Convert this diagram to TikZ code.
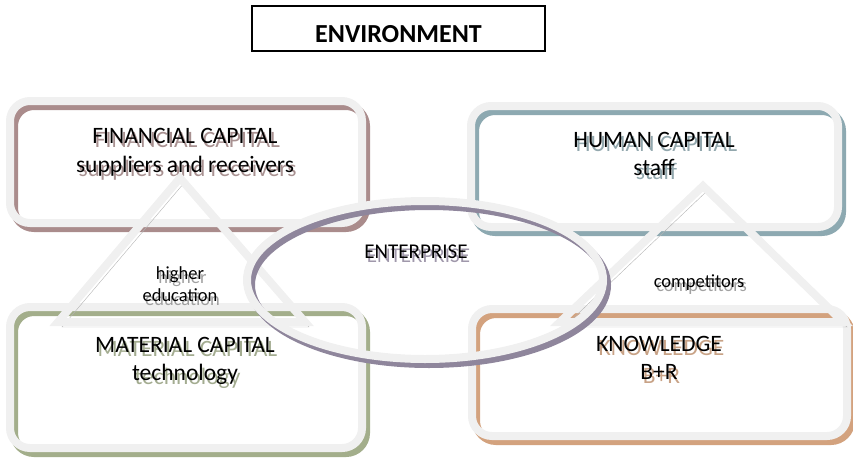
\documentclass[tikz,border=0pt]{standalone}
\usepackage{fontspec}
\setmainfont{Carlito}
\usetikzlibrary{shapes.geometric, positioning}

\definecolor{rimgray}{RGB}{240,240,240}
\definecolor{finshadow}{RGB}{170,140,140}
\definecolor{humshadow}{RGB}{141,169,177}
\definecolor{matshadow}{RGB}{163,174,139}
\definecolor{knowshadow}{RGB}{211,162,126}
\definecolor{entshadow}{RGB}{143,134,156}
\definecolor{trishadow}{RGB}{180,180,180}

\tikzstyle{title} = [draw, rectangle, line width=1.5pt, minimum width=293pt, minimum height=45pt, text height=27pt, text depth=0pt, font=\fontsize{26}{31}\selectfont\bfseries]
\tikzstyle{capital} = [draw=rimgray, rectangle, line width=8pt, rounded corners=20pt, inner sep=0pt]
\tikzstyle{ring} = [draw=rimgray, ellipse, line width=8pt, inner sep=0pt]
\tikzstyle{wedge} = [draw=rimgray, line width=8pt, line join=miter]
\tikzstyle{captext} = [align=center, font=\fontsize{23.5}{28.7}\selectfont]
\tikzstyle{smalltext} = [align=center, font=\fontsize{18.5}{22.6}\selectfont]
\tikzset{rim shadow/.style={preaction={draw=#1, transform canvas={shift={(4pt,-5pt)}}}},
         text shadow/.style={text=#1, opacity=.85, xshift=2.5pt, yshift=-4pt}}

\begin{document}
\begin{tikzpicture}[x=1pt, y=-1pt]
    \useasboundingbox (0,0) rectangle (853,460);

    % Environment heading
    \node (Environment) [title] at (398.5,28.5) {ENVIRONMENT};

    % Capital boxes
    \node (FinancialBox) [capital, rim shadow=finshadow, minimum width=352pt, minimum height=122pt] at (186,162) {};
    \node (HumanBox) [capital, rim shadow=humshadow, minimum width=367pt, minimum height=121pt] at (654.5,166.5) {};
    \node (MaterialBox) [capital, rim shadow=matshadow, minimum width=352pt, minimum height=141pt] at (186,377.5) {};
    \node (KnowledgeBox) [capital, rim shadow=knowshadow, minimum width=375pt, minimum height=127pt] at (659.5,372.5) {};

    % Shadows of the box texts
    \node [captext, text shadow=finshadow!90!black] at (185,152) {FINANCIAL CAPITAL\\suppliers and receivers};
    \node [captext, text shadow=humshadow!90!black] at (654,154) {HUMAN CAPITAL\\staff};
    \node [captext, text shadow=matshadow!90!black] at (185,361) {MATERIAL CAPITAL\\technology};
    \node [captext, text shadow=knowshadow!90!black] at (659,358) {KNOWLEDGE\\B+R};

    % Triangles
    \draw [wedge, rim shadow=trishadow] (180,178) -- (58,322) -- (305,322) -- cycle;
    \draw [wedge, rim shadow=trishadow] (703,186) -- (560,322) -- (843,322) -- cycle;

    % Enterprise ring
    \node (EnterpriseRing) [ring, rim shadow=entshadow, minimum width=356pt, minimum height=158pt] at (425,280) {};

    % Labels
    \node [smalltext, text shadow=trishadow!80!black] at (180,284) {higher\\education};
    \node [smalltext, anchor=base, text shadow=trishadow!80!black] at (699,287) {competitors};
    \node [font=\fontsize{21}{25}\selectfont, anchor=base, text shadow=entshadow] at (416,258) {ENTERPRISE};

    \node (FinancialText) [captext] at (185,152) {FINANCIAL CAPITAL\\suppliers and receivers};
    \node (HumanText) [captext] at (654,154) {HUMAN CAPITAL\\staff};
    \node (MaterialText) [captext] at (185,361) {MATERIAL CAPITAL\\technology};
    \node (KnowledgeText) [captext] at (659,358) {KNOWLEDGE\\B+R};
    \node (Education) [smalltext] at (180,284) {higher\\education};
    \node (Competitors) [smalltext, anchor=base] at (699,287) {competitors};
    \node (Enterprise) [font=\fontsize{21}{25}\selectfont, anchor=base] at (416,258) {ENTERPRISE};
\end{tikzpicture}
\end{document}
